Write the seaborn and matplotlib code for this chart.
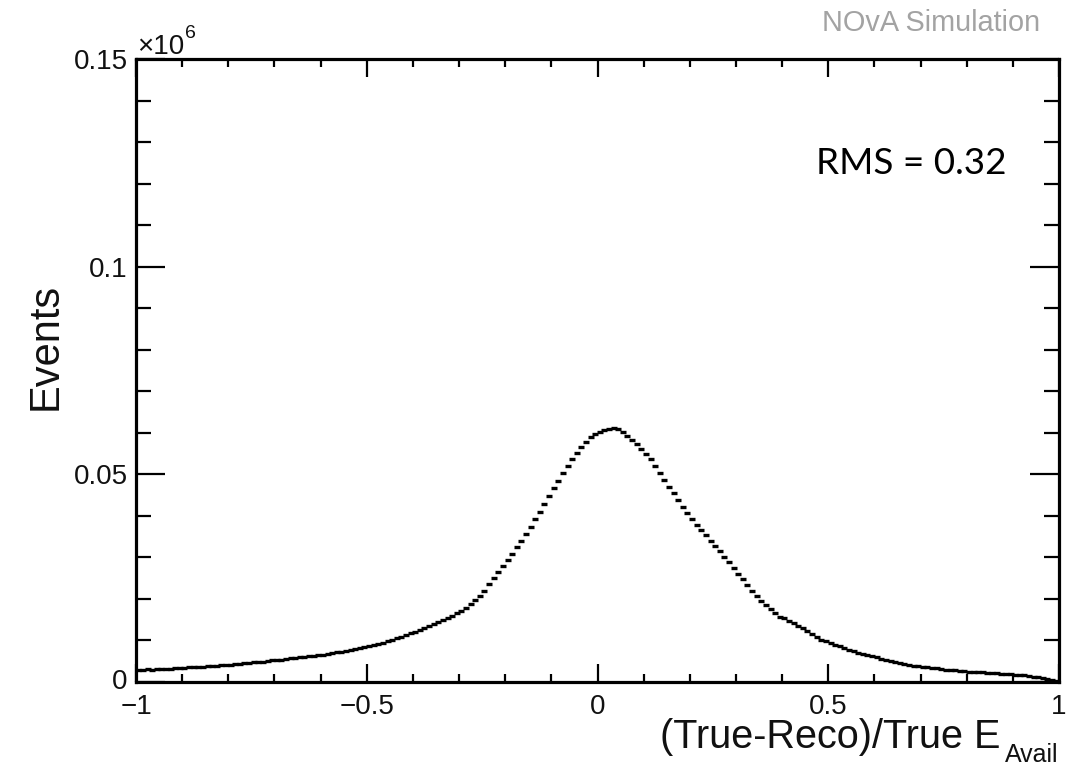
import numpy as np
import pandas as pd
import matplotlib
matplotlib.use("Agg")
import matplotlib.pyplot as plt
from matplotlib.ticker import MultipleLocator, FuncFormatter
from matplotlib.transforms import ScaledTranslation
import seaborn as sns

# Histogram of (True-Reco)/True E_Avail, 200 bins of width 0.01 on [-1, 1]
bin_width = 0.01
bin_centers = np.round(np.arange(-1 + bin_width / 2, 1, bin_width), 3)

# Events per bin, in thousands
events_k = [
    3.0, 3.0, 3.1, 2.9, 3.1, 3.2, 3.2, 3.2, 3.3, 3.4,
    3.4, 3.5, 3.5, 3.6, 3.7, 3.8, 3.8, 3.9, 4.0, 4.1,
    4.2, 4.3, 4.4, 4.5, 4.6, 4.7, 4.8, 4.9, 5.0, 5.2,
    5.3, 5.4, 5.5, 5.7, 5.8, 5.9, 6.0, 6.2, 6.3, 6.5,
    6.6, 6.8, 7.0, 7.2, 7.3, 7.5, 7.7, 7.9, 8.1, 8.4,
    8.6, 8.9, 9.2, 9.5, 9.8, 10.1, 10.5, 10.9, 11.3, 11.7,
    12.1, 12.5, 12.9, 13.4, 13.9, 14.4, 14.9, 15.4, 15.9, 16.5,
    17.1, 17.8, 18.7, 19.7, 20.8, 22.0, 23.6, 25.0, 26.4, 27.9,
    29.3, 30.9, 32.4, 34.0, 35.6, 37.4, 39.2, 41.0, 42.9, 44.7,
    46.6, 48.4, 50.3, 52.1, 53.7, 55.2, 56.6, 57.9, 58.9, 59.6,
    60.1, 60.6, 61.0, 61.2, 60.8, 60.1, 59.3, 58.3, 57.2, 56.1,
    55.0, 53.6, 52.0, 50.4, 48.7, 47.0, 45.4, 43.8, 42.2, 40.7,
    39.3, 37.9, 36.6, 35.3, 34.0, 32.8, 31.6, 30.2, 28.8, 27.4,
    26.0, 24.7, 23.3, 22.0, 20.8, 19.6, 18.5, 17.5, 16.5, 15.6,
    15.5, 14.8, 14.2, 13.6, 13.0, 12.3, 11.5, 10.8, 10.2, 9.8,
    9.4, 9.0, 8.6, 8.2, 7.8, 7.5, 7.1, 6.8, 6.5, 6.2,
    5.9, 5.6, 5.3, 5.0, 4.8, 4.5, 4.3, 4.1, 3.9, 3.8,
    3.6, 3.5, 3.4, 3.3, 3.1, 3.0, 2.9, 2.8, 2.7, 2.6,
    2.5, 2.4, 2.4, 2.3, 2.2, 2.2, 2.1, 2.0, 2.0, 1.9,
    1.8, 1.7, 1.6, 1.5, 1.3, 1.2, 1.0, 0.8, 0.6, 0.3,
]

x_ticks = [-1, -0.5, 0, 0.5, 1]
y_ticks = [0, 50000, 100000, 150000]
rms_label = "RMS = 0.32"

hist = pd.DataFrame({"x": bin_centers, "events": np.array(events_k) * 1000.0})

sns.set_theme(style="ticks")
plt.rcParams["font.family"] = ["Liberation Sans", "DejaVu Sans"]

W, H = 1073, 766
fig = plt.figure(figsize=(W / 100, H / 100), dpi=100)
fig.patch.set_facecolor("white")
ax = fig.add_axes([136 / W, 84 / H, 923 / W, 623 / H])
ax.set_facecolor("white")

# Each bin drawn as a short horizontal dash one bin wide
sns.scatterplot(data=hist, x="x", y="events", marker="_", s=15,
                color="black", linewidth=2.4, ax=ax, legend=False)

ax.set_xlim(-1, 1)
ax.set_ylim(0, 150000)
ax.set_xlabel("")
ax.set_ylabel("")

ax.xaxis.set_major_locator(plt.FixedLocator(x_ticks))
ax.xaxis.set_minor_locator(MultipleLocator(0.1))
ax.yaxis.set_major_locator(plt.FixedLocator(y_ticks))
ax.yaxis.set_minor_locator(MultipleLocator(10000))
ax.xaxis.set_major_formatter(FuncFormatter(lambda v, p: f"{v:g}".replace("-", "\u2212")))
ax.yaxis.set_major_formatter(FuncFormatter(lambda v, p: f"{v / 1e6:g}"))

for s in ax.spines.values():
    s.set_visible(True)
    s.set_linewidth(2.3)
    s.set_color("black")

ax.tick_params(which="both", direction="in", top=True, right=True,
               color="black", width=1.6, labelsize=20, labelcolor="#111111")
ax.tick_params(axis="x", which="major", length=13, pad=9)
ax.tick_params(axis="x", which="minor", length=6)
ax.tick_params(axis="y", which="major", length=21, pad=6)
ax.tick_params(axis="y", which="minor", length=11)

# Nudge the y-axis "0" up a little so it clears the "-1" below it
fig.canvas.draw()
zero_tick = ax.yaxis.get_major_ticks()[0]
zero_tick.label1.set_transform(zero_tick.label1.get_transform()
                               + ScaledTranslation(0, 3 / 100, fig.dpi_scale_trans))

# Axis multiplier
fig.text(137 / W, 1 - 54 / H, "\u00d710", fontsize=20, ha="left", va="baseline", color="#111111")
fig.text(185 / W, 1 - 38 / H, "6", fontsize=14, ha="left", va="baseline", color="#111111")

# Titles
fig.text(1040 / W, 1 - 23 / H, "NOvA Simulation", fontsize=20.8, color="#a3a3a3",
         ha="right", va="center")
fig.text(46 / W, 1 - 346 / H, "Events", fontsize=30, rotation=90,
         ha="center", va="center", color="#111111")
fig.text(1000 / W, 1 - 748 / H, "(True-Reco)/True E", fontsize=28.5,
         ha="right", va="baseline", color="#111111")
fig.text(1005 / W, 1 - 762 / H, "Avail", fontsize=18,
         ha="left", va="baseline", color="#111111")

fig.text(816 / W, 1 - 163 / H, rms_label, fontsize=26.6, family=["Lato", "DejaVu Sans"],
         ha="left", va="center", color="black")

fig.savefig("out.png", dpi=100, facecolor="white")
